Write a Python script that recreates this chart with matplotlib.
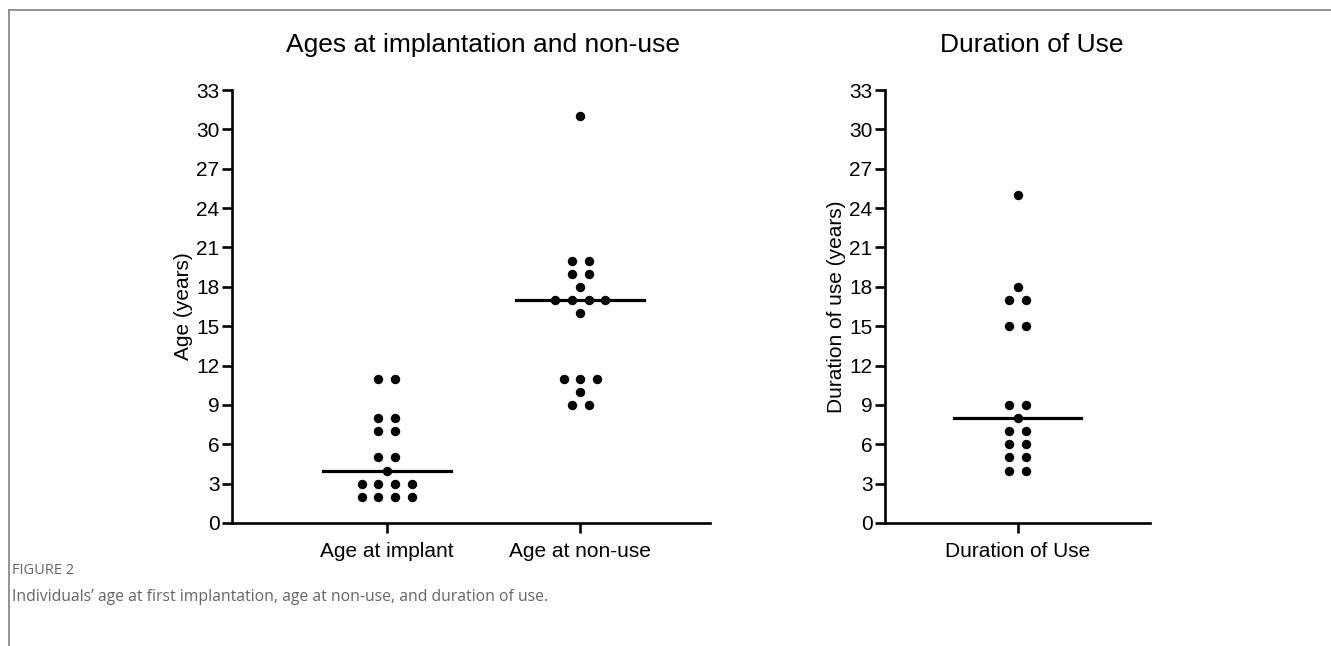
import matplotlib
matplotlib.use("Agg")
import matplotlib.pyplot as plt
import numpy as np
from matplotlib.lines import Line2D

# Datos
age_implant = [2, 2, 2, 2, 3, 3, 3, 3, 4, 5, 5, 7, 7, 8, 8, 11, 11]
age_nonuse = [9, 9, 10, 11, 11, 11, 16, 17, 17, 17, 17, 18, 19, 19, 20, 20, 31]
duration_use = [4, 4, 5, 5, 6, 6, 7, 7, 8, 9, 9, 15, 15, 17, 17, 18, 25]

left_labels = ["Age at implant", "Age at non-use"]
right_labels = ["Duration of Use"]
y_ticks = np.arange(0, 34, 3)

plt.rcParams['font.family'] = ['Liberation Sans', 'DejaVu Sans']

fig = plt.figure(figsize=(13.31, 6.46), dpi=100)

# marco gris de la figura
fig.add_artist(Line2D([9 / 1331, 1.0], [1 - 10 / 646, 1 - 10 / 646],
                      transform=fig.transFigure, color='#808080', lw=1.2))
fig.add_artist(Line2D([9 / 1331, 9 / 1331], [0, 1 - 10 / 646],
                      transform=fig.transFigure, color='#808080', lw=1.2))

ax1 = fig.add_axes([232 / 1331, 1 - 523 / 646, 478 / 1331, 433 / 646])
ax2 = fig.add_axes([885 / 1331, 1 - 523 / 646, 265 / 1331, 433 / 646])

spacing = 0.086
half_line = 0.33


def swarm(ax, values, xc):
    vals = np.array(values)
    for v in np.unique(vals):
        n = np.sum(vals == v)
        offs = (np.arange(n) - (n - 1) / 2) * spacing
        ax.scatter(xc + offs, [v] * n, s=46, color='black', zorder=3, linewidths=0)
    med = np.median(vals)
    ax.plot([xc - half_line, xc + half_line], [med, med], color='black', lw=2.3, zorder=2)


swarm(ax1, age_implant, 0)
swarm(ax1, age_nonuse, 1)
swarm(ax2, duration_use, 0)

ax1.set_xlim(-0.80, 1.67)
ax2.set_xlim(-0.69, 0.69)

for ax in (ax1, ax2):
    ax.set_ylim(0, 33)
    ax.set_yticks(y_ticks)
    ax.spines['top'].set_visible(False)
    ax.spines['right'].set_visible(False)
    ax.spines['left'].set_linewidth(1.9)
    ax.spines['bottom'].set_linewidth(1.9)
    ax.tick_params(width=1.9, length=7, labelsize=15, pad=2, colors='black')
    ax.tick_params(axis='x', pad=7)

ax1.set_xticks([0, 1])
ax1.set_xticklabels(left_labels)
ax2.set_xticks([0])
ax2.set_xticklabels(right_labels)

ax1.set_ylabel('Age (years)', fontsize=15, labelpad=2)
ax2.set_ylabel('Duration of use (years)', fontsize=15, labelpad=2)

fig.text(483 / 1331, 1 - 45 / 646, 'Ages at implantation and non-use', fontsize=19,
         ha='center', va='center')
fig.text(1032 / 1331, 1 - 45 / 646, 'Duration of Use', fontsize=19,
         ha='center', va='center')

# pie de figura
fig.text(12 / 1331, 1 - 571 / 646, 'FIGURE 2', fontsize=10.5, color='#666666',
         family='Open Sans', ha='left', va='center')
fig.text(12 / 1331, 1 - 597 / 646,
         'Individuals\u2019 age at first implantation, age at non-use, and duration of use.',
         fontsize=11.3, color='#666666', family='Open Sans', ha='left', va='center')

fig.savefig('out.png', dpi=100)
